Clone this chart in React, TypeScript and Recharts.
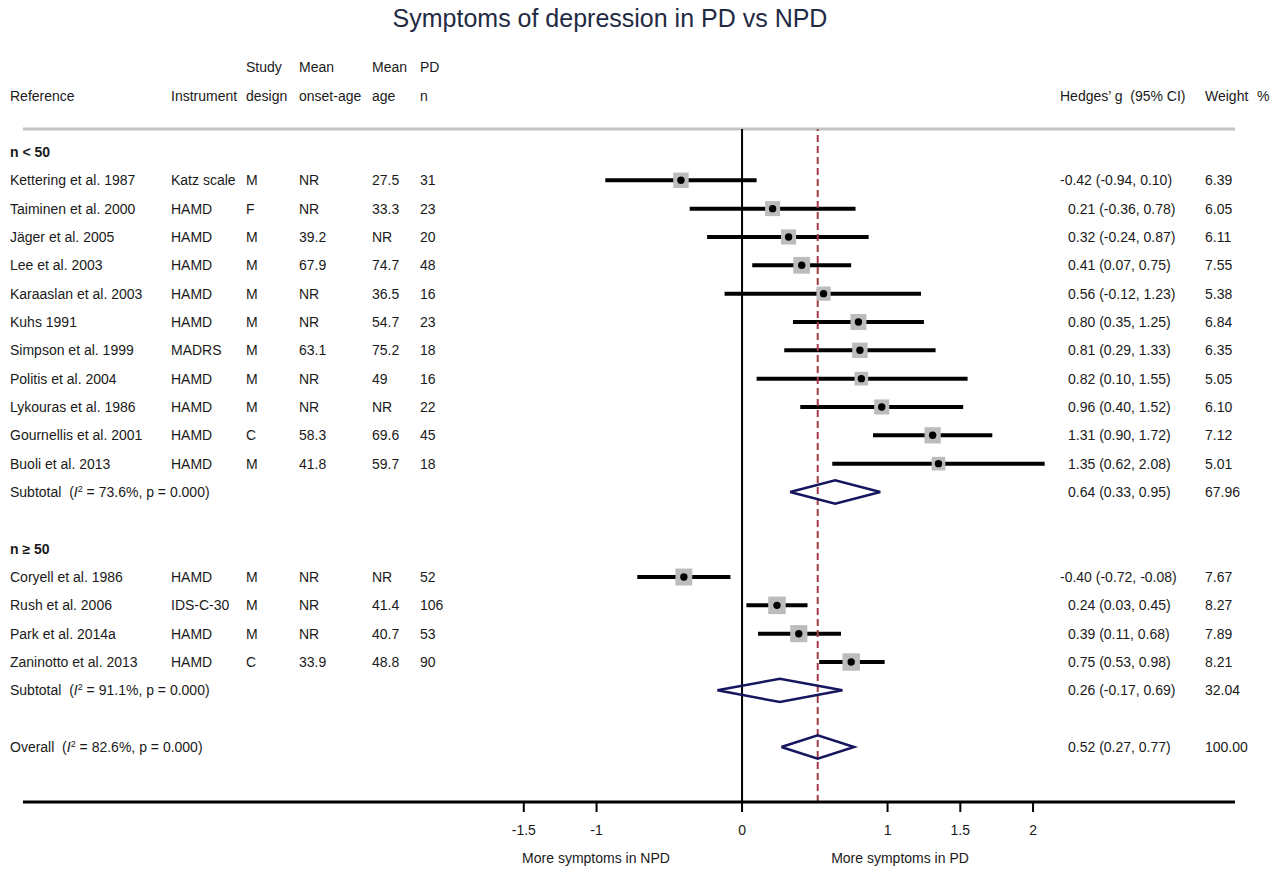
import React from "react";
import { ScatterChart, Scatter, XAxis, YAxis, ErrorBar, ReferenceLine } from "recharts";

// study-level values, in the order they appear on the plot
const references = [
  "Kettering et al. 1987", "Taiminen et al. 2000", "Jäger et al. 2005", "Lee et al. 2003",
  "Karaaslan et al. 2003", "Kuhs 1991", "Simpson et al. 1999", "Politis et al. 2004",
  "Lykouras et al. 1986", "Gournellis et al. 2001", "Buoli et al. 2013",
  "Coryell et al. 1986", "Rush et al. 2006", "Park et al. 2014a", "Zaninotto et al. 2013",
];
const instruments = [
  "Katz scale", "HAMD", "HAMD", "HAMD", "HAMD", "HAMD", "MADRS", "HAMD", "HAMD", "HAMD", "HAMD",
  "HAMD", "IDS-C-30", "HAMD", "HAMD",
];
const designs = ["M", "F", "M", "M", "M", "M", "M", "M", "M", "C", "M", "M", "M", "M", "C"];
const onsetAges = ["NR", "NR", "39.2", "67.9", "NR", "NR", "63.1", "NR", "NR", "58.3", "41.8", "NR", "NR", "NR", "33.9"];
const meanAges = ["27.5", "33.3", "NR", "74.7", "36.5", "54.7", "75.2", "49", "NR", "69.6", "59.7", "NR", "41.4", "40.7", "48.8"];
const pdN = ["31", "23", "20", "48", "16", "23", "18", "16", "22", "45", "18", "52", "106", "53", "90"];
const hedgesG = [-0.42, 0.21, 0.32, 0.41, 0.56, 0.8, 0.81, 0.82, 0.96, 1.31, 1.35, -0.4, 0.24, 0.39, 0.75];
const ciLow = [-0.94, -0.36, -0.24, 0.07, -0.12, 0.35, 0.29, 0.1, 0.4, 0.9, 0.62, -0.72, 0.03, 0.11, 0.53];
const ciHigh = [0.1, 0.78, 0.87, 0.75, 1.23, 1.25, 1.33, 1.55, 1.52, 1.72, 2.08, -0.08, 0.45, 0.68, 0.98];
const weights = [6.39, 6.05, 6.11, 7.55, 5.38, 6.84, 6.35, 5.05, 6.1, 7.12, 5.01, 7.67, 8.27, 7.89, 8.21];
const studyGroup = [0, 0, 0, 0, 0, 0, 0, 0, 0, 0, 0, 1, 1, 1, 1];

const groupLabels = ["n < 50", "n ≥ 50"];
const subtotalI2 = [73.6, 91.1];
const subtotalG = [0.64, 0.26];
const subtotalLow = [0.33, -0.17];
const subtotalHigh = [0.95, 0.69];
const subtotalWeight = [67.96, 32.04];

const overallI2 = 82.6;
const overallG = 0.52;
const overallLow = 0.27;
const overallHigh = 0.77;
const overallWeight = 100;

const xTicks = [-1.5, -1, 0, 1, 1.5, 2];

const FONT = "'Liberation Sans', Arial, sans-serif";
const TEXT = "#1a1a1a";
const NAVY = "#16165e";
const colX = [10, 171, 246, 299, 372, 420];
const gX = 1068;
const weightX = 1205;
const DIAMOND_HALF = 0.41;

type Row = {
  row: number;
  kind: "header" | "study" | "subtotal" | "overall";
  label: string;
  cols?: string[];
  g?: number;
  lo?: number;
  hi?: number;
  w?: number;
  i2?: number;
};

const rows: Row[] = [];
let r = 0;
groupLabels.forEach((label, gi) => {
  rows.push({ row: r++, kind: "header", label });
  references.forEach((ref, i) => {
    if (studyGroup[i] !== gi) return;
    rows.push({
      row: r++, kind: "study", label: ref,
      cols: [instruments[i], designs[i], onsetAges[i], meanAges[i], pdN[i]],
      g: hedgesG[i], lo: ciLow[i], hi: ciHigh[i], w: weights[i],
    });
  });
  rows.push({
    row: r, kind: "subtotal", label: "Subtotal",
    g: subtotalG[gi], lo: subtotalLow[gi], hi: subtotalHigh[gi], w: subtotalWeight[gi], i2: subtotalI2[gi],
  });
  r += 2;
});
rows.push({ row: r, kind: "overall", label: "Overall", g: overallG, lo: overallLow, hi: overallHigh, w: overallWeight, i2: overallI2 });

const lastRow = r;
const yDomain: [number, number] = [-0.81, lastRow + 1.94];

// one point per table row; x is irrelevant for the text, only the y scale is used
const textPoints = rows.map((d) => ({ x: 0, y: d.row, d }));

const studyPoints = rows
  .filter((d) => d.kind === "study")
  .map((d) => ({ x: d.g!, y: d.row, w: d.w!, err: [d.g! - d.lo!, d.hi! - d.g!] }));

const diamonds = rows
  .filter((d) => d.kind === "subtotal" || d.kind === "overall")
  .map((d) => [
    { x: d.lo!, y: d.row },
    { x: d.g!, y: d.row - DIAMOND_HALF },
    { x: d.hi!, y: d.row },
    { x: d.g!, y: d.row + DIAMOND_HALF },
    { x: d.lo!, y: d.row },
  ]);

const fmt = (v: number) => v.toFixed(2);

const RowText = (props: any) => {
  const { cy, payload } = props;
  const d: Row = payload.d;
  const y = cy;
  const base = { fontFamily: FONT, fontSize: 14, fill: TEXT, dy: "0.35em" };
  if (d.kind === "header") {
    return (
      <text x={colX[0]} y={y} {...base} fontWeight="bold">{d.label}</text>
    );
  }
  const ci = `${fmt(d.g!)} (${fmt(d.lo!)}, ${fmt(d.hi!)})`;
  const gx = d.g! < 0 ? gX - 8 : gX;
  return (
    <g>
      {d.kind === "study" ? (
        <>
          <text x={colX[0]} y={y} {...base}>{d.label}</text>
          {d.cols!.map((c, i) => (
            <text key={i} x={colX[i + 1]} y={y} {...base}>{c}</text>
          ))}
        </>
      ) : (
        <text x={colX[0]} y={y} {...base} style={{ whiteSpace: "pre" }}>
          <tspan>{`${d.label}  (`}</tspan>
          <tspan fontStyle="italic">I</tspan>
          <tspan dy="-5" fontSize={9}>2</tspan>
          <tspan dy="5">{` = ${d.i2!.toFixed(1)}%, p = 0.000)`}</tspan>
        </text>
      )}
      <text x={gx} y={y} {...base}>{ci}</text>
      <text x={weightX} y={y} {...base}>{fmt(d.w!)}</text>
    </g>
  );
};

const StudyMarker = (props: any) => {
  const { cx, cy, payload } = props;
  const s = 6.1 * Math.sqrt(payload.w);
  return (
    <g>
      <rect x={cx - s / 2} y={cy - s / 2} width={s} height={s} fill="#bcbcbc" />
      <circle cx={cx} cy={cy} r={3.7} fill="#000" />
    </g>
  );
};

const NoMarker = () => <g />;

const headerStyle = { fontFamily: FONT, fontSize: 14, fill: TEXT };

export default function App() {
  return (
    <div style={{ position: "absolute", left: 0, top: 0, background: "#fff" }}>
      <ScatterChart
        width={1282}
        height={869}
        margin={{ top: 129, right: 47, bottom: 0, left: 23 }}
      >
        <XAxis
          type="number"
          dataKey="x"
          domain={[-4.942, 3.388]}
          ticks={xTicks}
          interval={0}
          height={67}
          axisLine={{ stroke: "#000", strokeWidth: 3 }}
          tickLine={{ stroke: "#000", strokeWidth: 2 }}
          tickSize={10}
          tickMargin={13}
          tick={{ fill: TEXT, fontSize: 14, fontFamily: FONT }}
        />
        <YAxis type="number" dataKey="y" domain={yDomain} reversed hide />
        <ReferenceLine y={yDomain[0]} stroke="#c4c4c4" strokeWidth={3} />
        <Scatter data={textPoints} shape={<RowText />} isAnimationActive={false} />
        <Scatter data={studyPoints} shape={<StudyMarker />} isAnimationActive={false}>
          <ErrorBar dataKey="err" direction="x" width={0} stroke="#000" strokeWidth={4} />
        </Scatter>
        {diamonds.map((pts, i) => (
          <Scatter
            key={i}
            data={pts}
            shape={<NoMarker />}
            line={{ stroke: NAVY, strokeWidth: 2.5, strokeLinejoin: "miter" }}
            lineType="joint"
            fill="none"
            isAnimationActive={false}
          />
        ))}
        <ReferenceLine x={0} stroke="#000" strokeWidth={2} />
        <ReferenceLine x={overallG} stroke="#a23b45" strokeWidth={2} strokeDasharray="7 4" />
        <text x={610} y={27} textAnchor="middle" fontFamily={FONT} fontSize={25} fill="#1f2a44">
          Symptoms of depression in PD vs NPD
        </text>
        <text x={colX[2]} y={72} {...headerStyle}>Study</text>
        <text x={colX[3]} y={72} {...headerStyle}>Mean</text>
        <text x={colX[4]} y={72} {...headerStyle}>Mean</text>
        <text x={colX[5]} y={72} {...headerStyle}>PD</text>
        <text x={colX[0]} y={101} {...headerStyle}>Reference</text>
        <text x={colX[1]} y={101} {...headerStyle}>Instrument</text>
        <text x={colX[2]} y={101} {...headerStyle}>design</text>
        <text x={colX[3]} y={101} {...headerStyle}>onset-age</text>
        <text x={colX[4]} y={101} {...headerStyle}>age</text>
        <text x={colX[5]} y={101} {...headerStyle}>n</text>
        <text x={1060} y={101} {...headerStyle} style={{ whiteSpace: "pre" }}>Hedges’ g  (95% CI)</text>
        <text x={weightX} y={101} {...headerStyle}>Weight</text>
        <text x={1257} y={101} {...headerStyle}>%</text>
        <text x={596} y={863} textAnchor="middle" {...headerStyle}>More symptoms in NPD</text>
        <text x={900} y={863} textAnchor="middle" {...headerStyle}>More symptoms in PD</text>
      </ScatterChart>
    </div>
  );
}
